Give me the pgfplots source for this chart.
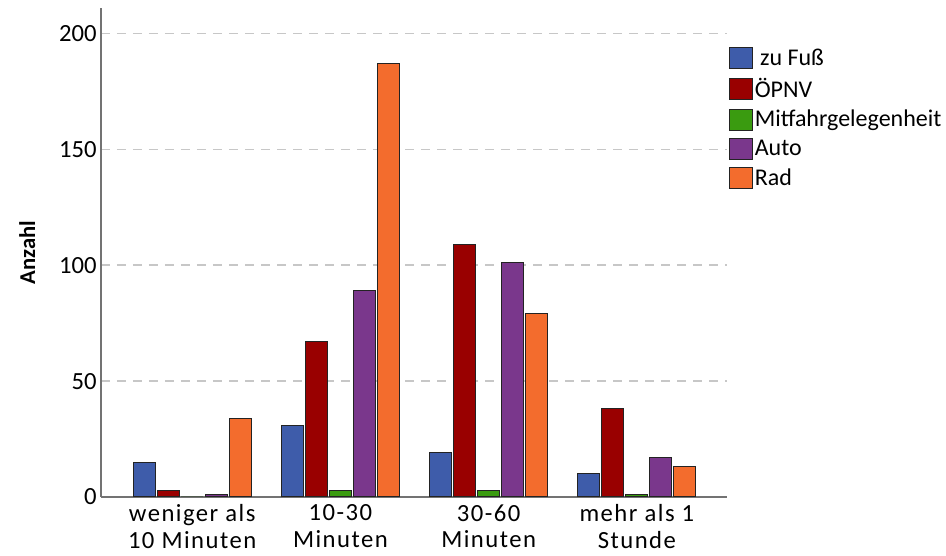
\documentclass[border=0pt]{standalone}
\usepackage{pgfplots}
\pgfplotsset{compat=1.18}
\usepackage{fontspec}
\setmainfont{Carlito}
\newfontfamily\catfont[LetterSpace=6]{Carlito}
\definecolor{cblue}{RGB}{62,92,170}
\definecolor{cred}{RGB}{153,0,0}
\definecolor{cgreen}{RGB}{58,155,16}
\definecolor{cpurple}{RGB}{122,55,140}
\definecolor{corange}{RGB}{243,108,45}
\definecolor{cedge}{RGB}{35,35,35}
\begin{document}
\begin{tikzpicture}
\useasboundingbox (-75.75pt,-44.25pt) rectangle (633.75pt,372.75pt);
\begin{axis}[
  at={(0,0)}, anchor=south west, scale only axis,
  width=469.5pt, height=366.75pt,
  xmin=-0.615, xmax=3.608, ymin=0, ymax=211,
  axis x line*=bottom, axis y line*=left,
  axis line style={draw=black!55, line width=0.8pt},
  xtick={0,1,2,3},
  xticklabels={{weniger als\\10 Minuten},{10-30\\Minuten},{30-60\\Minuten},{mehr als 1\\Stunde}},
  xticklabel style={align=center, font=\catfont\fontsize{18.5}{20}\selectfont, inner sep=1pt, yshift=-4.5pt},
  ytick={0,50,100,150,200},
  major tick length=0pt,
  /pgf/number format/assume math mode=true,
  yticklabel style={font=\fontsize{18.5}{20}\selectfont, inner sep=0pt, xshift=-3pt},
  ymajorgrids,
  grid style={draw=black!22, line width=1.2pt, dash pattern=on 6.75pt off 5.25pt},
  ylabel={\bfseries Anzahl},
  ylabel style={at={(axis description cs:-0.118,0.5)}, anchor=center, font=\fontsize{17}{20}\selectfont},
  legend image code/.code={\draw[#1] (0pt,-7.9pt) rectangle (17.25pt,7.9pt);},
  legend cell align=left,
  legend style={at={(axis description cs:1.003,0.92)}, anchor=north west, draw=none, fill=none,
    inner sep=0pt, row sep=5.5pt, column sep=0pt,
    font=\fontsize{18}{20}\selectfont, nodes={inner sep=1.2pt}},
]
\addplot[ybar, bar width=0.149, bar shift=-0.324, fill=cblue, draw=cedge, line width=0.75pt] coordinates {(0,15) (1,31) (2,19) (3,10)};
\addplot[ybar, bar width=0.149, bar shift=-0.162, fill=cred, draw=cedge, line width=0.75pt] coordinates {(0,3) (1,67) (2,109) (3,38)};
\addplot[ybar, bar width=0.149, bar shift=0, fill=cgreen, draw=cedge, line width=0.75pt] coordinates {(0,0) (1,3) (2,3) (3,1)};
\addplot[ybar, bar width=0.149, bar shift=0.162, fill=cpurple, draw=cedge, line width=0.75pt] coordinates {(0,1) (1,89) (2,101) (3,17)};
\addplot[ybar, bar width=0.149, bar shift=0.324, fill=corange, draw=cedge, line width=0.75pt] coordinates {(0,34) (1,187) (2,79) (3,13)};
\legend{~zu Fuß,ÖPNV,Mitfahrgelegenheit,Auto,Rad}
\end{axis}
\end{tikzpicture}
\end{document}
